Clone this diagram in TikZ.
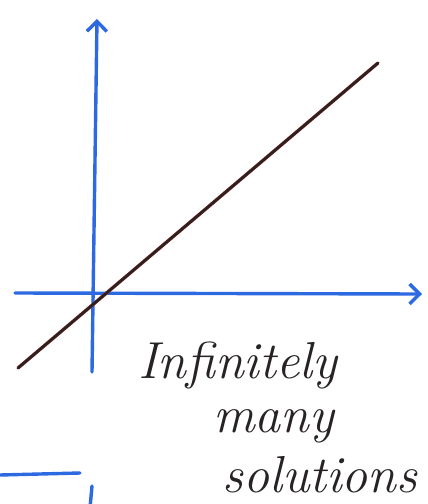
\documentclass[tikz,border=0pt]{standalone}
\usepackage{tikz}
\usetikzlibrary{arrows.meta, positioning}
\definecolor{penblue}{RGB}{45,105,225}
\definecolor{penink}{RGB}{40,35,35}
\definecolor{penred}{RGB}{170,50,45}

\begin{document}
\begin{tikzpicture}[
  x=1pt, y=-1pt,
  axis/.style={draw=penblue, line width=3.4pt, line cap=round,
               -{Straight Barb[length=10pt, width=20pt, line width=3.4pt]}},
  stub/.style={draw=penblue, line width=3.4pt, line cap=round},
  solline/.style={draw=penink, line width=2.6pt, line cap=round},
  hand/.style={font=\fontsize{52}{56}\selectfont\itshape, text=penink,
               anchor=base west, inner sep=0pt},
]
  \useasboundingbox (0,0) rectangle (428,504);

  \coordinate (ybot) at (92,372);
  \coordinate (ytop) at (97,19);
  \coordinate (xleft) at (15,293);
  \coordinate (xright) at (422,294);
  \coordinate (lstart) at (18,368);
  \coordinate (lend) at (378,63);

  \draw[axis] (ybot) -- (ytop);
  \draw[axis] (xleft) -- (xright);
  \draw[draw=penred, line width=3.4pt, line cap=round] (lstart) -- (lend);
  \draw[solline] (lstart) -- (lend);

  \node[hand] (inf) at (138,378) {Infinitely};
  \node[hand] (many) at (213,432) {many};
  \node[hand] (sol) at (222,492) {solutions};

  % next sketch, cut off
  \coordinate (nxa) at (0,475);
  \coordinate (nxb) at (80,473);
  \coordinate (nya) at (92,486);
  \coordinate (nyb) at (90,508);
  \draw[stub] (nxa) -- (nxb);
  \draw[stub] (nya) -- (nyb);
\end{tikzpicture}
\end{document}
